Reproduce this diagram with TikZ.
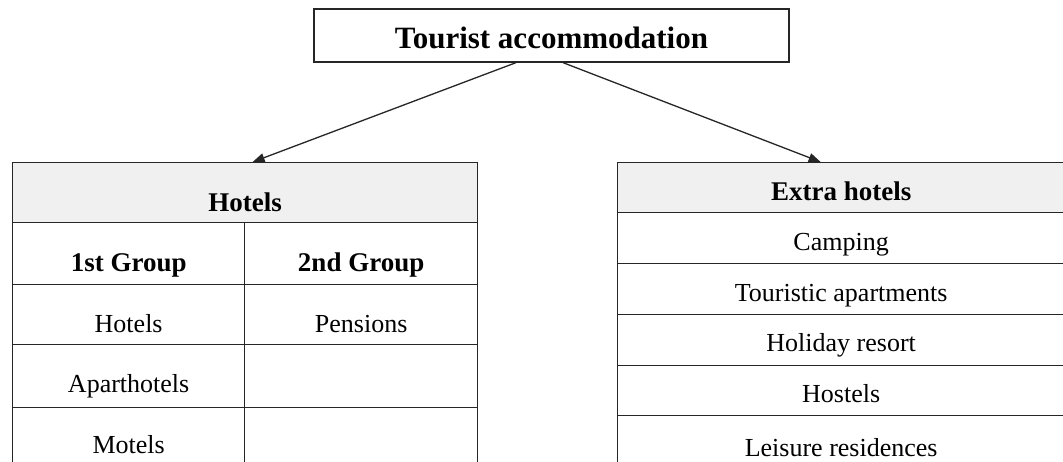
\documentclass[tikz,border=0pt]{standalone}
\usepackage{fontspec}
\setmainfont{Liberation Serif}
\usetikzlibrary{arrows.meta}
\begin{document}
\begin{tikzpicture}[x=1pt,y=-1pt,
  frame/.style={draw=black!85, line width=1.3pt},
  cell/.style={frame, inner sep=0pt, anchor=north west, text depth=0pt,
    font=\fontsize{26}{30}\selectfont},
  headcell/.style={cell, fill=black!6, font=\fontsize{27}{31}\selectfont\bfseries},
  boldcell/.style={cell, font=\fontsize{27}{31}\selectfont\bfseries},
  link/.style={draw=black!85, line width=1.3pt, -{Triangle[length=12pt,width=9pt]}}]
\clip (0,0) rectangle (1063,462);
\fill[white] (0,0) rectangle (1063,462);

% top node
\node[frame, minimum width=475pt, minimum height=53pt, inner sep=0pt,
      text height=26pt, text depth=0pt, font=\fontsize{31}{36}\selectfont\bfseries]
  (title) at (551.5,35.5) {Tourist accommodation};

% hotels table
\node[headcell, minimum width=465pt, minimum height=60pt, text height=38pt] (hotels) at (12,162) {Hotels};
\node[boldcell, minimum width=232pt, minimum height=62pt, text height=36pt] (g1) at (12,222) {1st Group};
\node[boldcell, minimum width=233pt, minimum height=62pt, text height=36pt] (g2) at (244,222) {2nd Group};
\node[cell, minimum width=232pt, minimum height=60pt, text height=36pt] (h1) at (12,284) {Hotels};
\node[cell, minimum width=233pt, minimum height=60pt, text height=36pt] (h2) at (244,284) {Pensions};
\node[cell, minimum width=232pt, minimum height=63pt, text height=33pt] (a1) at (12,344) {Aparthotels};
\node[cell, minimum width=233pt, minimum height=63pt] (a2) at (244,344) {};
\node[cell, minimum width=232pt, minimum height=63pt, text height=29pt] (m1) at (12,407) {Motels};
\node[cell, minimum width=233pt, minimum height=63pt] (m2) at (244,407) {};

% extra hotels table
\node[headcell, minimum width=447pt, minimum height=50pt, text height=26pt] (extra) at (617,162) {Extra hotels};
\node[cell, minimum width=447pt, minimum height=51pt, text height=25pt] (camp) at (617,212) {Camping};
\node[cell, minimum width=447pt, minimum height=51pt, text height=25pt] (apart) at (617,263) {Touristic apartments};
\node[cell, minimum width=447pt, minimum height=51pt, text height=23pt] (resort) at (617,314) {Holiday resort};
\node[cell, minimum width=447pt, minimum height=50pt, text height=24pt] (hostel) at (617,365) {Hostels};
\node[cell, minimum width=447pt, minimum height=56pt, text height=26pt] (leisure) at (617,415) {Leisure residences};

% connectors
\draw[link] ([xshift=-35.5pt]title.south) -- ([xshift=7.5pt]hotels.north);
\draw[link] ([xshift=11.5pt]title.south) -- ([xshift=-20.5pt]extra.north);
\end{tikzpicture}
\end{document}
